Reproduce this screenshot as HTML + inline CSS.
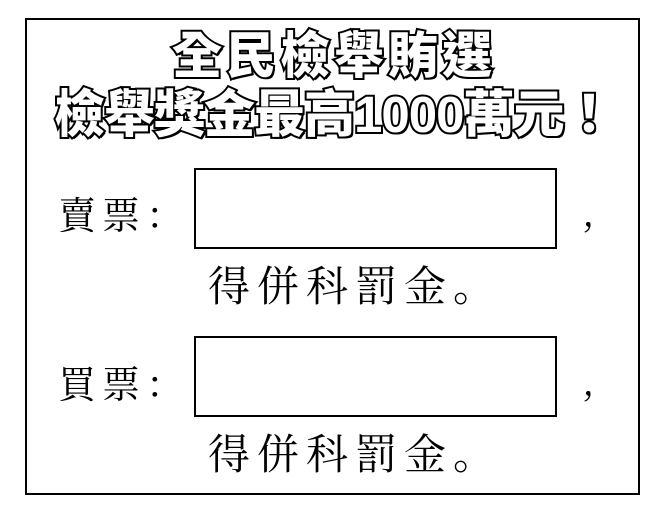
<!DOCTYPE html>
<html><head><meta charset="utf-8"><style>
body{margin:0;width:664px;height:516px;background:#fff;position:relative;overflow:hidden;font-family:"Liberation Sans","Noto Sans CJK TC",sans-serif}
.frame{position:absolute;left:25px;top:18px;width:611px;height:473px;border:2px solid #000}
.t{position:absolute;white-space:nowrap;color:#fff;font-weight:900;-webkit-text-stroke:4px #000;paint-order:stroke fill;text-shadow:2px 2px 0 #000}
.l{position:absolute;white-space:nowrap;font-family:"Noto Serif CJK SC","Noto Sans CJK TC",serif;color:#000}
.box{position:absolute;left:194px;width:359px;height:77px;border:2px solid #000}
</style></head><body>
<div class="frame"></div>
<div class="t" style="left:172px;top:28px;font-size:50px;line-height:56px;letter-spacing:4px">全民檢舉賄選</div>
<div class="t" style="left:54px;top:86px;font-size:51px;line-height:58px;letter-spacing:-1px">檢舉獎金最高1000萬元！</div>
<div class="l" style="left:58px;top:188px;font-size:38px;line-height:50px;letter-spacing:6px">賣票：</div>
<div class="box" style="top:168px"></div>
<div class="l" style="left:582px;top:185px;font-size:38px;line-height:50px">,</div>
<div class="l" style="left:208px;top:258px;font-size:42px;line-height:52px;letter-spacing:7px">得併科罰金。</div>
<div class="l" style="left:58px;top:357px;font-size:38px;line-height:50px;letter-spacing:6px">買票：</div>
<div class="box" style="top:336px"></div>
<div class="l" style="left:582px;top:354px;font-size:38px;line-height:50px">,</div>
<div class="l" style="left:208px;top:426px;font-size:42px;line-height:52px;letter-spacing:7px">得併科罰金。</div>
</body></html>
